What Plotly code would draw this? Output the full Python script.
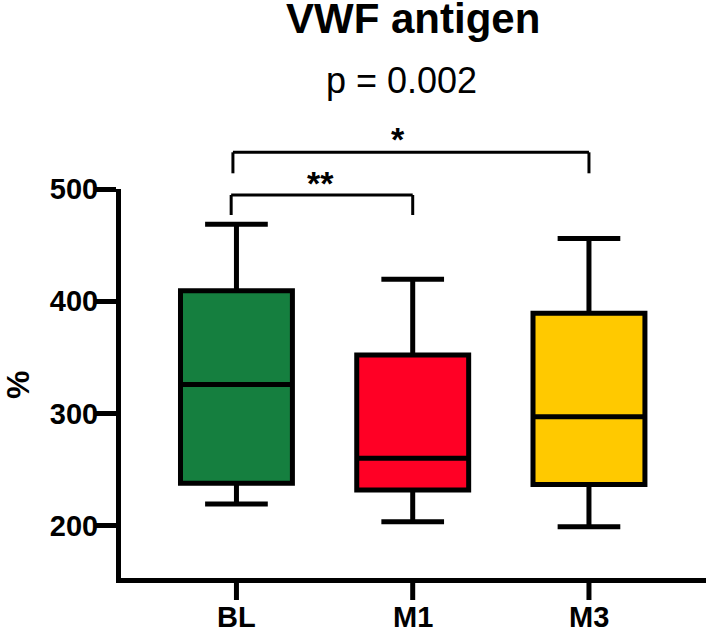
import plotly.graph_objects as go

categories = ["BL", "M1", "M3"]
upper = [468.6, 419.6, 456.0]
q3 = [409.5, 352.2, 389.3]
median = [326.0, 260.3, 297.3]
q1 = [238.0, 232.0, 237.0]
lower = [219.6, 203.8, 199.4]
colors = ["#157F3F", "#FF0025", "#FFC900"]
ytickvals = [200, 300, 400, 500]

FONT = "Liberation Sans, Arial, sans-serif"
XRANGE = [-0.655, 2.664]

fig = go.Figure()
for i, c in enumerate(categories):
    fig.add_trace(go.Box(
        x=[c], q1=[q1[i]], median=[median[i]], q3=[q3[i]],
        lowerfence=[lower[i]], upperfence=[upper[i]],
        fillcolor=colors[i], line=dict(color="black", width=5),
        width=0.635, whiskerwidth=0.56, boxpoints=False,
        showlegend=False, hoverinfo="skip",
    ))

W, H = 709, 631
L, R, T, B = 121, 3, 189, 53

def py(p):
    return (H - B - p) / (H - T - B)

def px(p):
    return (p - L) / (W - L - R)

shapes = []
lw = dict(color="black", width=3)
# upper bracket BL - M3
shapes.append(dict(type="line", xref="x", yref="paper", x0=-0.02, x1=2.0, y0=py(152.3), y1=py(152.3), line=lw))
shapes.append(dict(type="line", xref="x", yref="paper", x0=-0.02, x1=-0.02, y0=py(152.3), y1=py(173.3), line=lw))
shapes.append(dict(type="line", xref="x", yref="paper", x0=2.0, x1=2.0, y0=py(152.3), y1=py(173.3), line=lw))
# lower bracket BL - M1
shapes.append(dict(type="line", xref="x", yref="paper", x0=-0.03, x1=1.0, y0=py(195), y1=py(195), line=lw))
shapes.append(dict(type="line", xref="x", yref="paper", x0=-0.03, x1=-0.03, y0=py(195), y1=py(215), line=lw))
shapes.append(dict(type="line", xref="x", yref="paper", x0=1.0, x1=1.0, y0=py(195), y1=py(215), line=lw))
# x-axis tick marks at the category positions (fraction of the x axis domain)
for i, c in enumerate(categories):
    f = (i - XRANGE[0]) / (XRANGE[1] - XRANGE[0])
    shapes.append(dict(type="line", xref="x domain", yref="paper", x0=f, x1=f,
                       y0=py(580), y1=py(600), layer="above",
                       line=dict(color="black", width=5)))

annotations = [
    dict(text="<b>VWF antigen</b>", xref="paper", yref="paper", x=px(412.5), y=py(19),
         xanchor="center", yanchor="middle", showarrow=False,
         font=dict(family=FONT, size=42, color="black")),
    dict(text="p = 0.002", xref="paper", yref="paper", x=px(401.5), y=py(81),
         xanchor="center", yanchor="middle", showarrow=False,
         font=dict(family=FONT, size=36, color="black")),
    dict(text="<b>**</b>", xref="x", yref="paper", x=0.474, y=py(183),
         xanchor="center", yanchor="middle", showarrow=False,
         font=dict(family=FONT, size=34, color="black")),
    dict(text="<b>*</b>", xref="x", yref="paper", x=0.916, y=py(139),
         xanchor="center", yanchor="middle", showarrow=False,
         font=dict(family=FONT, size=34, color="black")),
    dict(text="<b>%</b>", xref="paper", yref="paper", x=px(18), y=py(385),
         xanchor="center", yanchor="middle", showarrow=False, textangle=-90,
         font=dict(family=FONT, size=32, color="black")),
]
# category labels under the x axis
for c in categories:
    annotations.append(dict(
        text="<b>%s</b>" % c, xref="x", yref="paper", x=c, y=py(617),
        xanchor="center", yanchor="middle", showarrow=False,
        font=dict(family=FONT, size=29, color="black")))

fig.update_layout(
    width=W, height=H,
    margin=dict(l=L, r=R, t=T, b=B, pad=0),
    paper_bgcolor="white", plot_bgcolor="white",
    boxmode="overlay",
    shapes=shapes, annotations=annotations,
    font=dict(family=FONT, color="black"),
    xaxis=dict(
        type="category", categoryorder="array", categoryarray=categories,
        range=XRANGE, showgrid=False, zeroline=False,
        showline=True, linewidth=5, linecolor="black",
        ticks="", showticklabels=False,
    ),
    yaxis=dict(
        range=[153.7, 500], showgrid=False, zeroline=False,
        showline=True, linewidth=5, linecolor="black", automargin=False,
        ticks="outside", ticklen=20, tickwidth=5, tickcolor="black",
        tickvals=ytickvals, ticklabelstandoff=-8,
        tickfont=dict(family=FONT, size=29, color="black", weight="bold"),
    ),
)

fig.write_html("out.html")
